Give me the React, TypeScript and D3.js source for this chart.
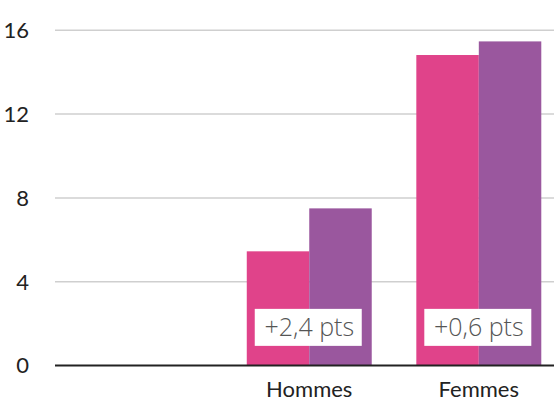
import React from "react";
import * as d3 from "d3";

const categories = ["", "Hommes", "Femmes"];
const series1 = [null, 5.45, 14.82];
const series2 = [null, 7.5, 15.47];
const diffLabels = ["", "+2,4 pts", "+0,6 pts"];
const yTicks = [0, 4, 8, 12, 16];

const colors = ["#e0438a", "#9a579e"];

export default function App() {
  const W = 554, H = 400;
  const x0 = d3.scaleBand<string>().domain(categories).range([55, 563.5]).paddingInner(0.263).paddingOuter(0.131);
  const x1 = d3.scaleBand<string>().domain(["s1", "s2"]).range([0, x0.bandwidth()]);
  const y = d3.scaleLinear().domain([0, 16]).range([365.5, 30.3]);
  const seriesList = [series1, series2];
  const boxW = 107, boxH = 37;

  return (
    <svg width={W} height={H} style={{ position: "absolute", left: 0, top: 0, background: "#fff" }}>
      {yTicks.map((t) =>
        t === 0 ? null : (
          <line key={t} x1={55} x2={W} y1={y(t)} y2={y(t)} stroke="#cfcfcf" strokeWidth={1.5} />
        )
      )}
      {yTicks.map((t) => (
        <text key={"l" + t} x={29} y={y(t)} dy="0.36em" textAnchor="end" fontFamily="Lato" fontSize={22} fill="#222">
          {t}
        </text>
      ))}
      {categories.map((c, i) => (
        <g key={c + i} transform={`translate(${x0(c)},0)`}>
          {seriesList.map((s, j) => {
            const v = s[i];
            if (v == null) return null;
            return (
              <rect
                key={j}
                x={x1(j === 0 ? "s1" : "s2")}
                y={y(v)}
                width={x1.bandwidth()}
                height={y(0) - y(v)}
                fill={colors[j]}
              />
            );
          })}
          {diffLabels[i] ? (
            <g transform={`translate(${x0.bandwidth() / 2},${y(1.82)})`}>
              <rect x={-boxW / 2 - 1} y={-boxH / 2} width={boxW} height={boxH} fill="#fff" />
              <text textAnchor="middle" dy="0.36em" fontFamily="Open Sans" fontWeight={300} fontSize={25} fill="#555">
                {diffLabels[i]}
              </text>
            </g>
          ) : null}
          {c ? (
            <text x={x0.bandwidth() / 2} y={397} textAnchor="middle" fontFamily="Lato" fontSize={22} fill="#222">
              {c}
            </text>
          ) : null}
        </g>
      ))}
      <line x1={55} x2={W} y1={y(0)} y2={y(0)} stroke="#222" strokeWidth={2} />
    </svg>
  );
}
